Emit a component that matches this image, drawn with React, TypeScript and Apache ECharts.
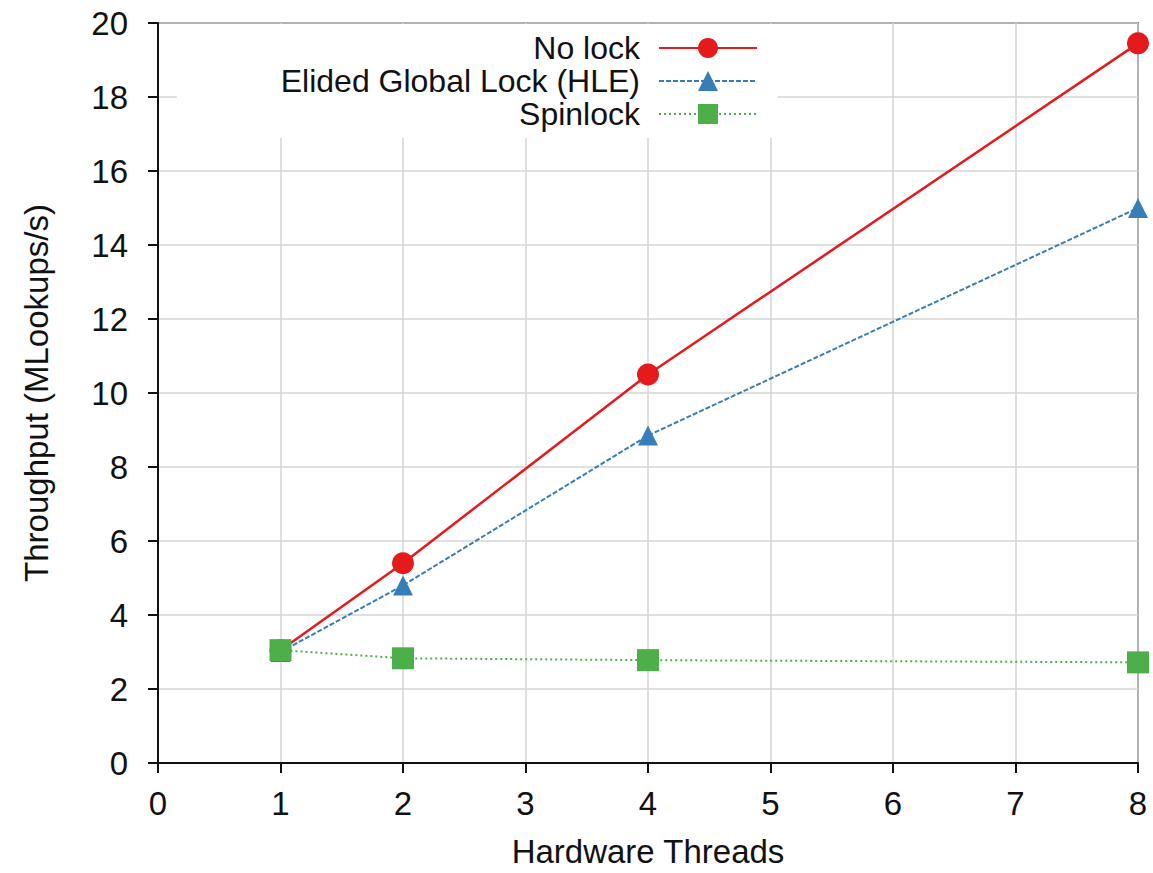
import React, { useEffect, useRef } from "react";
import * as echarts from "echarts";

const threads = [1, 2, 4, 8];
const noLock = [3.05, 5.4, 10.5, 19.45];
const hle = [3.0, 4.8, 8.85, 15.0];
const spinlock = [3.05, 2.83, 2.78, 2.72];
const seriesNames = ["No lock", "Elided Global Lock (HLE)", "Spinlock"];
const colors = ["#e41a1c", "#377eb8", "#4daf4a"];

const FONT = "'Liberation Sans', Arial, sans-serif";
const FS = 33;

export default function App() {
  const ref = useRef<HTMLDivElement>(null);
  useEffect(() => {
    if (!ref.current) return;
    const chart = echarts.init(ref.current, null, { renderer: "svg" });
    const pair = (ys: number[]) => threads.map((x, i) => [x, ys[i]]);
    chart.setOption({
      animation: false,
      backgroundColor: "#ffffff",
      textStyle: { fontFamily: FONT },
      grid: {
        left: 158,
        right: 15,
        top: 23,
        bottom: 108,
        show: true,
        borderColor: "#111",
        borderWidth: 1.5,
        backgroundColor: "transparent",
      },
      legend: {
        orient: "vertical",
        align: "right",
        right: 375,
        top: 24,
        padding: [8, 20, 8, 104],
        backgroundColor: "#ffffff",
        itemWidth: 98,
        itemHeight: 25,
        itemGap: 1,
        textStyle: { fontSize: 32, color: "#111", fontFamily: FONT, padding: [0, 14, 0, 0] },
        data: seriesNames,
      },
      xAxis: {
        type: "value",
        min: 0,
        max: 8,
        interval: 1,
        name: "Hardware Threads",
        nameLocation: "middle",
        nameGap: 72,
        nameTextStyle: { fontSize: FS, color: "#111", fontFamily: FONT },
        axisLine: { show: true, onZero: false, lineStyle: { color: "#111", width: 2 } },
        axisTick: { show: true, inside: false, length: 10, lineStyle: { color: "#111", width: 2 } },
        axisLabel: { fontSize: FS, color: "#111", margin: 24, fontFamily: FONT },
        splitLine: { show: true, lineStyle: { color: "#d4d4d4", width: 1.5 } },
      },
      yAxis: {
        type: "value",
        min: 0,
        max: 20,
        interval: 2,
        name: "Throughput (MLookups/s)",
        nameLocation: "middle",
        nameGap: 105,
        nameRotate: 90,
        nameTextStyle: { fontSize: FS, color: "#111", fontFamily: FONT },
        axisLine: { show: true, onZero: false, lineStyle: { color: "#111", width: 2 } },
        axisTick: { show: true, inside: false, length: 10, lineStyle: { color: "#111", width: 2 } },
        axisLabel: { fontSize: FS, color: "#111", margin: 30, fontFamily: FONT },
        splitLine: { show: true, lineStyle: { color: "#d4d4d4", width: 1.5 } },
      },
      series: [
        {
          name: seriesNames[0],
          type: "line",
          data: pair(noLock),
          symbol: "circle",
          symbolSize: 22,
          itemStyle: { color: colors[0] },
          lineStyle: { color: colors[0], width: 2.5, type: "solid" },
          z: 3,
        },
        {
          name: seriesNames[1],
          type: "line",
          data: pair(hle),
          symbol: "triangle",
          symbolSize: 20,
          itemStyle: { color: colors[1] },
          lineStyle: { color: colors[1], width: 2, type: [5, 2] },
          z: 4,
        },
        {
          name: seriesNames[2],
          type: "line",
          data: pair(spinlock),
          symbol: "rect",
          symbolSize: 22,
          itemStyle: { color: colors[2] },
          lineStyle: { color: colors[2], width: 2, type: [2, 3] },
          z: 5,
        },
      ],
    });
    return () => chart.dispose();
  }, []);
  return <div ref={ref} style={{ width: 1153, height: 873, position: "absolute", left: 0, top: 0 }} />;
}
